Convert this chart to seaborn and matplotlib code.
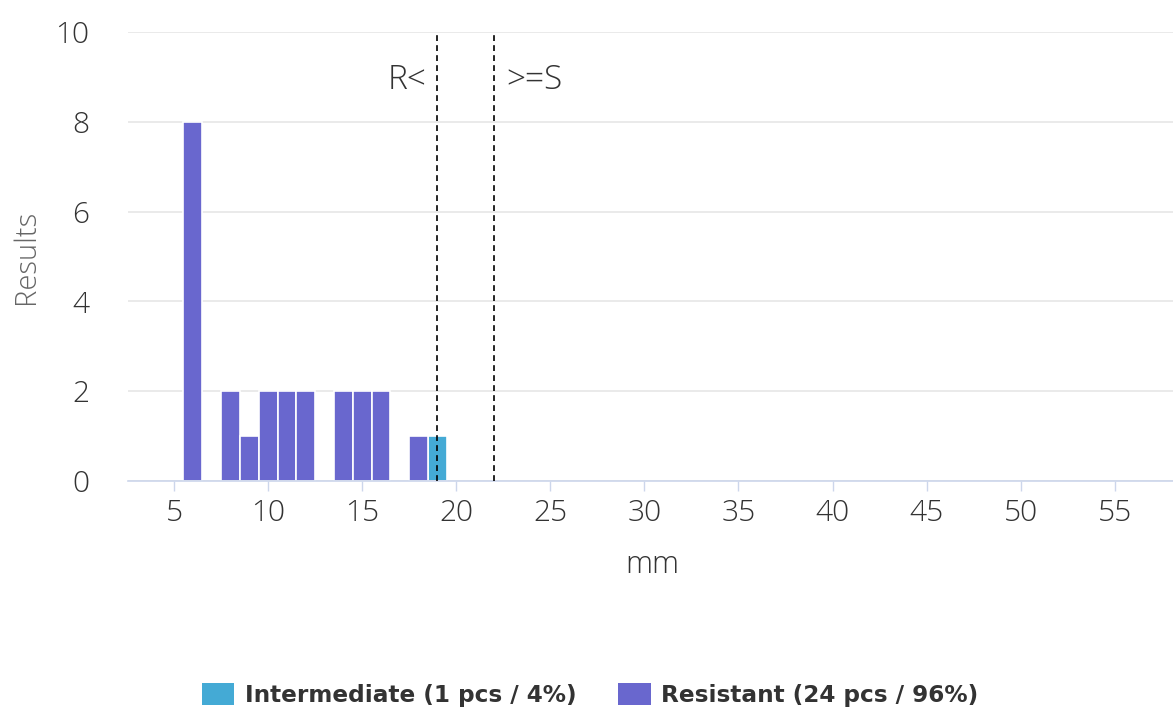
import matplotlib
matplotlib.use("Agg")
import matplotlib.pyplot as plt
import seaborn as sns
import pandas as pd
from matplotlib.patches import Patch

# ---- data ----
resistant_mm = [6, 8, 9, 10, 11, 12, 14, 15, 16, 18]
resistant_count = [8, 2, 1, 2, 2, 2, 2, 2, 2, 1]
intermediate_mm = [19]
intermediate_count = [1]
breakpoint_r = 19
breakpoint_s = 22
x_ticks = [5, 10, 15, 20, 25, 30, 35, 40, 45, 50, 55]
y_ticks = [0, 2, 4, 6, 8, 10]
categories = ["Intermediate", "Resistant"]
colors = {"Intermediate": "#44AAD5", "Resistant": "#6967CE"}

df = pd.DataFrame({
    "mm": resistant_mm + intermediate_mm,
    "count": resistant_count + intermediate_count,
    "category": ["Resistant"] * len(resistant_mm) + ["Intermediate"] * len(intermediate_mm),
})

sns.set_theme(style="white")
plt.rcParams["font.family"] = ["Open Sans", "DejaVu Sans"]

fig = plt.figure(figsize=(11.73, 7.13), dpi=100)
ax = fig.add_axes([128 / 1173, 1 - 481 / 713, 1 - 128 / 1173, (481 - 32) / 713])
ax.set_axisbelow(True)

sns.barplot(data=df, x="mm", y="count", hue="category", hue_order=categories,
            palette=colors, native_scale=True, dodge=False, width=1.0,
            errorbar=None, edgecolor="white", linewidth=1.2, saturation=1,
            legend=False, ax=ax)

ax.set_xlim(2.55, 58.1)
ax.set_ylim(0, 10)
ax.set_xticks(x_ticks)
ax.set_xticklabels([str(t) for t in x_ticks])
ax.set_yticks(y_ticks)
ax.grid(axis="y", color="#e6e6e6", linewidth=1.2)
ax.grid(axis="x", visible=False)
for s in ["top", "right", "left"]:
    ax.spines[s].set_visible(False)
ax.spines["bottom"].set_color("#ccd6eb")
ax.spines["bottom"].set_linewidth(1.2)
ax.spines["bottom"].set_zorder(5)

ax.tick_params(axis="x", which="major", bottom=True, length=7.5, width=1, color="#ccd6eb",
               labelsize=21.5, labelcolor="#333333", pad=5)
ax.tick_params(axis="y", left=False, labelsize=21.5, labelcolor="#333333", pad=22)
for lab in ax.get_xticklabels() + ax.get_yticklabels():
    lab.set_fontweight("light")

ax.set_ylabel("Results", fontsize=21, color="#666666", fontweight="light")
ax.yaxis.set_label_coords(-0.083, 0.5)
ax.set_xlabel("mm", fontsize=22, color="#333333", fontweight="light")
ax.xaxis.set_label_coords(0.502, -0.187)
ax.xaxis.label.set_va("center")

for xv in (breakpoint_r, breakpoint_s):
    ax.axvline(xv, color="black", linewidth=1.2, linestyle=(0, (3.5, 2.5)), zorder=6)

ax.annotate("R<", xy=(breakpoint_r, 0.893), xycoords=("data", "axes fraction"),
            xytext=(-8, 0), textcoords="offset points", ha="right", va="center",
            fontsize=24, color="#333333", fontweight="light")
ax.annotate(">=S", xy=(breakpoint_s, 0.893), xycoords=("data", "axes fraction"),
            xytext=(9, 0), textcoords="offset points", ha="left", va="center",
            fontsize=24, color="#333333", fontweight="light")

total = sum(resistant_count) + sum(intermediate_count)
counts = {"Intermediate": sum(intermediate_count), "Resistant": sum(resistant_count)}
handles = [Patch(facecolor=colors[c], edgecolor="none") for c in categories]
labels = [f"{c} ({counts[c]} pcs / {round(100 * counts[c] / total)}%)" for c in categories]
leg = fig.legend(handles, labels, loc="center", bbox_to_anchor=(590 / 1173, 1 - 695 / 713),
                 ncol=2, frameon=False, handlelength=1.4, handleheight=1.1,
                 handletextpad=0.45, columnspacing=1.8,
                 prop={"family": "DejaVu Sans", "weight": "bold", "size": 16.7})
for t in leg.get_texts():
    t.set_color("#333333")

fig.savefig("out.png", dpi=100)
